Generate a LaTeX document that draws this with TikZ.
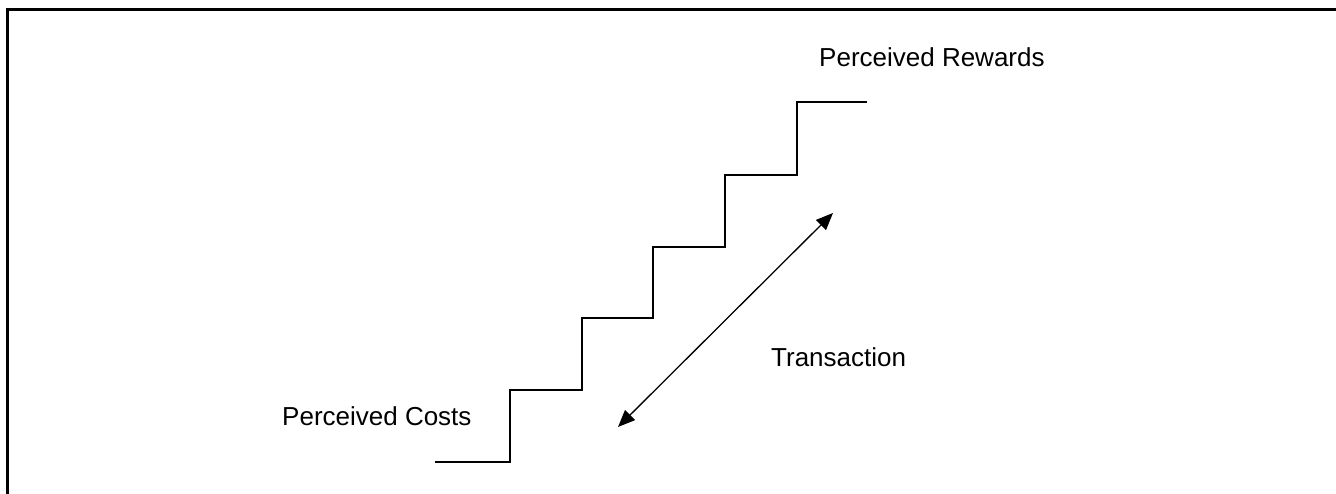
\documentclass[tikz,border=0pt]{standalone}
\usepackage{fontspec}
\setmainfont{Liberation Sans}
\usetikzlibrary{arrows.meta}
\begin{document}
\begin{tikzpicture}[x=1pt,y=-1pt,
  frame/.style={line width=3pt},
  stair/.style={line width=2pt},
  link/.style={line width=1.3pt,{Triangle[length=17pt,width=14pt]}-{Triangle[length=17pt,width=14pt]}},
  lbl/.style={anchor=base west,inner sep=0pt,font=\fontsize{26}{31}\selectfont}]
\useasboundingbox (0,0) rectangle (1336,493);
\clip (0,0) rectangle (1336,493);
\draw[frame] (7,9) rectangle (1350,510);
\draw[stair] (435,462) -- (510,462) -- (510,390) -- (582,390) -- (582,318)
  -- (653,318) -- (653,247) -- (725,247) -- (725,175) -- (797,175)
  -- (797,102) -- (867,102);
\coordinate (tlow) at (618,427);
\coordinate (thigh) at (833,213);
\draw[link] (tlow) -- (thigh);
\node[lbl] (rewards) at (819,66) {Perceived Rewards};
\node[lbl] (costs) at (282,425) {Perceived Costs};
\node[lbl] (trans) at (771,366) {Transaction};
\end{tikzpicture}
\end{document}
